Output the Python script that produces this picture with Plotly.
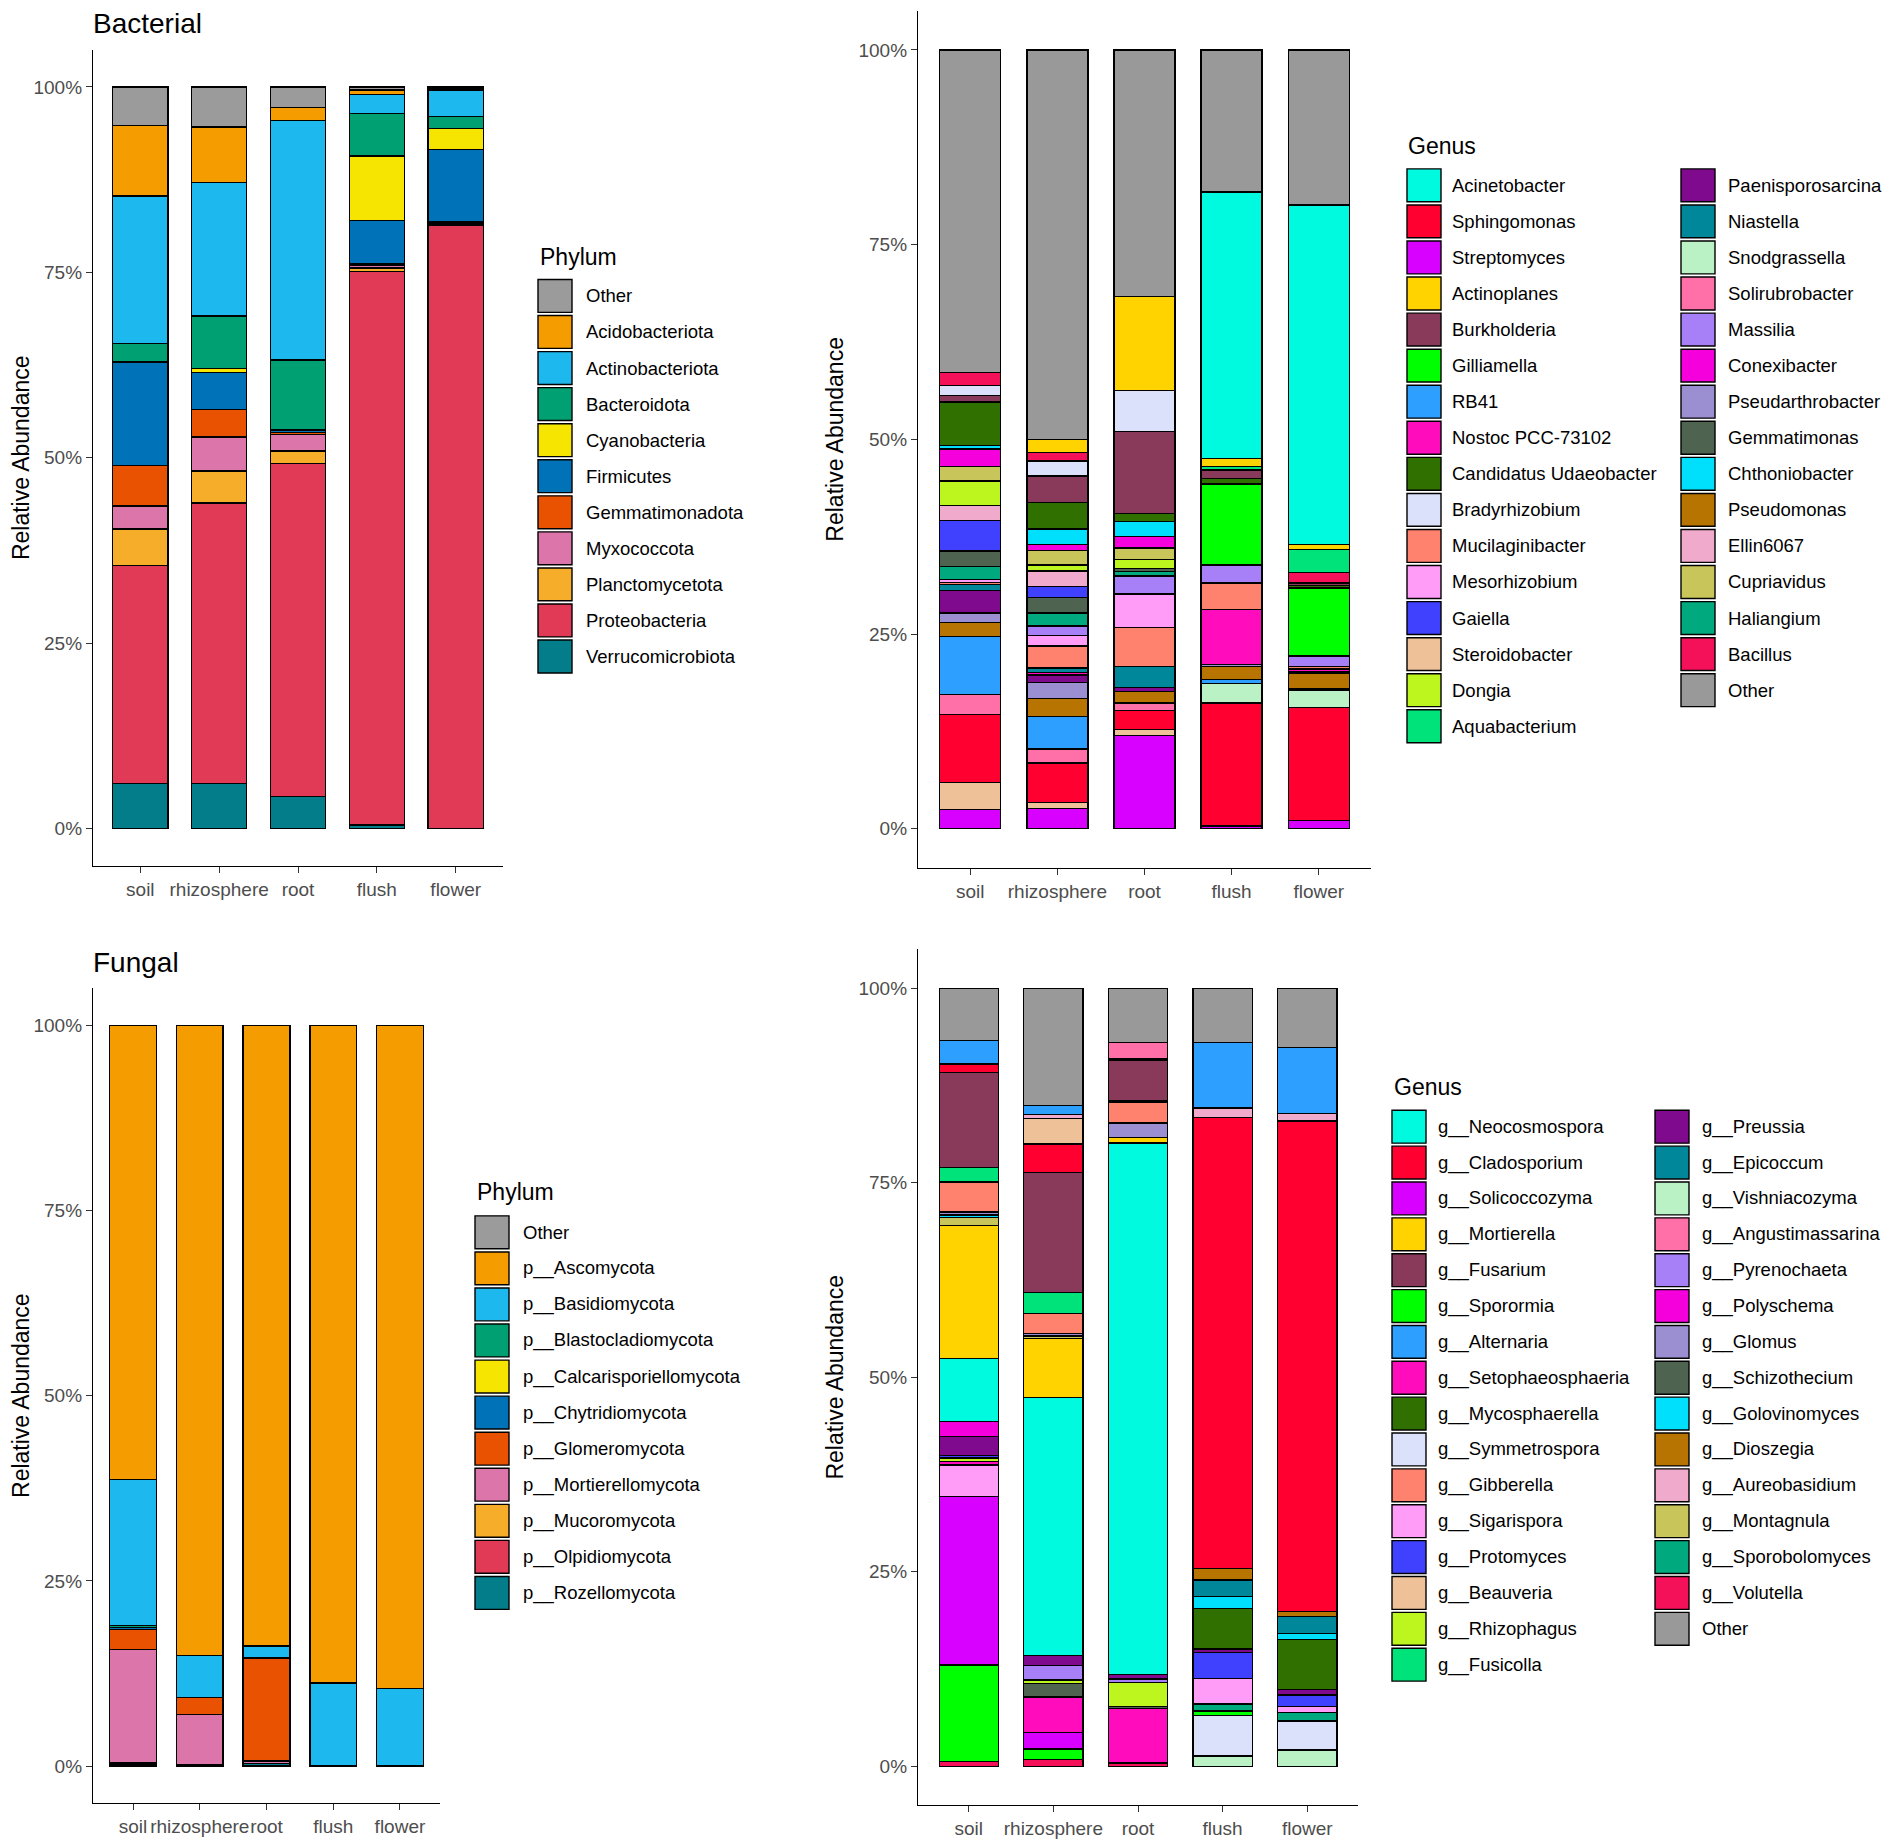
import plotly.graph_objects as go

W, H = 1902, 1847
PAGE_PAD = 8  # default body margin of the html page
FW, FH = W - 2 * PAGE_PAD, H - 2 * PAGE_PAD
FONT = "Liberation Sans, Arial, sans-serif"

samples = ["soil", "rhizosphere", "root", "flush", "flower"]
pct_ticks = [0, 25, 50, 75, 100]
pct_labels = ["0%", "25%", "50%", "75%", "100%"]

# ---- Bacterial, phylum level (legend order; first item sits on top of the stack)
bac_phylum = ["Other", "Acidobacteriota", "Actinobacteriota", "Bacteroidota", "Cyanobacteria",
              "Firmicutes", "Gemmatimonadota", "Myxococcota", "Planctomycetota",
              "Proteobacteria", "Verrucomicrobiota"]
bac_phylum_soil = [5.2, 9.5, 19.9, 2.5, 0.1, 13.8, 5.5, 3.1, 4.9, 29.4, 6.1]
bac_phylum_rhizosphere = [5.4, 7.5, 18.0, 7.1, 0.5, 5.0, 3.7, 4.6, 4.3, 37.8, 6.1]
bac_phylum_root = [2.8, 1.7, 32.3, 9.4, 0.1, 0.3, 0.3, 2.2, 1.7, 44.9, 4.3]
bac_phylum_flush = [0.4, 0.6, 2.6, 5.7, 8.7, 5.8, 0.2, 0.4, 0.5, 74.6, 0.5]
bac_phylum_flower = [0.3, 0.2, 3.5, 1.6, 2.8, 9.8, 0.2, 0.1, 0.1, 81.4, 0.0]

# ---- Fungal, phylum level
fun_phylum = ["Other", "p__Ascomycota", "p__Basidiomycota", "p__Blastocladiomycota",
              "p__Calcarisporiellomycota", "p__Chytridiomycota", "p__Glomeromycota",
              "p__Mortierellomycota", "p__Mucoromycota", "p__Olpidiomycota", "p__Rozellomycota"]
fun_phylum_soil = [0, 61.3, 19.7, 0.3, 0, 0.3, 2.7, 15.3, 0, 0.2, 0.2]
fun_phylum_rhizosphere = [0, 85.1, 5.6, 0, 0, 0, 2.3, 6.8, 0, 0, 0.2]
fun_phylum_root = [0, 83.8, 1.6, 0, 0, 0, 13.9, 0.4, 0, 0, 0.3]
fun_phylum_flush = [0, 88.8, 11.2, 0, 0, 0, 0, 0, 0, 0, 0]
fun_phylum_flower = [0, 89.5, 10.5, 0, 0, 0, 0, 0, 0, 0, 0]

phylum_colors = ["#9B9B9B", "#F59D00", "#1CB8EE", "#00A072", "#F5E500", "#0072B8",
                 "#E85200", "#DB75AA", "#F6AD2A", "#E03A57", "#037D8A"]

# ---- Bacterial, genus level (legend order)
bac_genus = ["Acinetobacter", "Sphingomonas", "Streptomyces", "Actinoplanes", "Burkholderia",
             "Gilliamella", "RB41", "Nostoc PCC-73102", "Candidatus Udaeobacter",
             "Bradyrhizobium", "Mucilaginibacter", "Mesorhizobium", "Gaiella", "Steroidobacter",
             "Dongia", "Aquabacterium", "Paenisporosarcina", "Niastella", "Snodgrassella",
             "Solirubrobacter", "Massilia", "Conexibacter", "Pseudarthrobacter", "Gemmatimonas",
             "Chthoniobacter", "Pseudomonas", "Ellin6067", "Cupriavidus", "Haliangium",
             "Bacillus", "Other"]
bac_genus_soil = [0, 8.8, 2.5, 0, 0.8, 0, 7.5, 0, 5.6, 1.3, 0.25, 0.35, 3.9, 3.4, 3.1, 0,
                  2.9, 0.8, 0, 2.5, 0, 2.2, 1.2, 2.0, 0.45, 1.8, 2.0, 1.9, 1.65, 1.7, 41.4]
bac_genus_rhizosphere = [0, 5.1, 2.6, 1.7, 3.4, 0, 4.2, 0.3, 3.4, 1.9, 2.8, 1.4, 1.4, 0.75, 0.75, 0,
                         1.0, 0.6, 0, 1.8, 1.2, 0.75, 2.0, 2.0, 2.0, 2.3, 2.0, 1.9, 1.65, 1.1, 50.0]
bac_genus_root = [0, 2.4, 12.0, 12.0, 10.5, 0, 0, 0, 1.05, 5.3, 5.0, 4.3, 0, 0.75, 1.1, 0,
                  0.5, 2.7, 0, 1.0, 2.3, 1.5, 0, 0.4, 1.9, 1.5, 0, 1.5, 0.6, 0, 31.7]
bac_genus_flush = [34.2, 15.8, 0.35, 1.0, 1.1, 10.4, 0.5, 7.1, 0.7, 0, 3.4, 0, 0, 0, 0, 0.5,
                   0, 0, 2.5, 0, 2.3, 0, 0.2, 0, 0, 1.7, 0, 0, 0, 0, 18.25]
bac_genus_flower = [43.6, 14.5, 1.1, 0.6, 0.3, 8.7, 0.2, 0.3, 0.35, 0, 0.3, 0, 0, 0, 0, 3.0,
                    0, 0, 2.2, 0, 1.4, 0, 0.2, 0, 0, 2.0, 0, 0, 0, 1.35, 19.9]

# ---- Fungal, genus level (legend order)
fun_genus = ["g__Neocosmospora", "g__Cladosporium", "g__Solicoccozyma", "g__Mortierella",
             "g__Fusarium", "g__Sporormia", "g__Alternaria", "g__Setophaeosphaeria",
             "g__Mycosphaerella", "g__Symmetrospora", "g__Gibberella", "g__Sigarispora",
             "g__Protomyces", "g__Beauveria", "g__Rhizophagus", "g__Fusicolla", "g__Preussia",
             "g__Epicoccum", "g__Vishniacozyma", "g__Angustimassarina", "g__Pyrenochaeta",
             "g__Polyschema", "g__Glomus", "g__Schizothecium", "g__Golovinomyces",
             "g__Dioszegia", "g__Aureobasidium", "g__Montagnula", "g__Sporobolomyces",
             "g__Volutella", "Other"]
fun_genus_soil = [8.1, 1.1, 21.7, 17.1, 12.2, 12.4, 3.0, 0.5, 0, 0, 3.85, 4.0, 0.3, 0, 0.4,
                  1.85, 2.5, 0, 0, 0, 0, 1.9, 0.4, 0, 0.35, 0, 0, 1.0, 0, 0.6, 6.7]
fun_genus_rhizosphere = [33.2, 3.7, 2.1, 7.6, 15.4, 1.3, 1.1, 4.6, 0, 0, 2.6, 0, 0, 3.3, 0.5,
                         2.7, 1.25, 0, 0, 0, 1.85, 0, 0.3, 1.7, 0, 0, 0.5, 0.3, 0, 0.9, 15.1]
fun_genus_root = [68.3, 0.2, 0, 0.75, 5.2, 0, 0, 7.0, 0, 0, 2.6, 0, 0, 0, 3.1, 0.2, 0.6,
                  0, 0, 2.1, 0.4, 0, 1.85, 0.3, 0, 0, 0, 0, 0, 0.4, 7.0]
fun_genus_flush = [0, 57.9, 0, 0, 0, 0.6, 8.4, 0, 5.2, 5.2, 0, 3.3, 3.3, 0, 0, 0, 0.45,
                   2.1, 1.3, 0, 0, 0, 0, 0, 1.6, 1.5, 1.25, 0, 0.9, 0, 7.0]
fun_genus_flower = [0, 63.1, 0, 0, 0, 0, 8.5, 0, 6.4, 3.7, 0, 0.75, 1.5, 0, 0, 0, 0.75,
                    2.2, 2.1, 0, 0, 0, 0, 0, 0.75, 0.6, 0.95, 0, 1.1, 0, 7.6]

genus_colors = ["#00FAE0", "#FF0030", "#D800FF", "#FFD300", "#893A5A", "#00FF00", "#2C9FFF",
                "#FF0DBD", "#2F7000", "#DCE1FB", "#FF826E", "#FF9CF8", "#4040FF", "#EEC199",
                "#BDF51F", "#00E27A", "#7F0A8D", "#00879A", "#BAF2C6", "#FF6FA8", "#A77FF7",
                "#F500DC", "#9C8FD1", "#4E6350", "#00E0FC", "#B87400", "#F0AACB", "#C8C55A",
                "#00AA7E", "#F5105A", "#999999"]


# page pixel -> paper fraction (the figure sits inside the page's 8px body margin)
def px_x(v):
    return (v - PAGE_PAD) / FW


def px_y(v):
    return 1 - (v - PAGE_PAD) / FH


def genus_stack(names):
    # stacked with Other on top, then alphabetical from top to bottom
    rest = sorted([n for n in names if n != "Other"], key=lambda s: s.replace("g__", "").lower())
    return ["Other"] + rest


fig = go.Figure()


def add_panel(names, colors, columns, stack_top_down, axis_id):
    for name in reversed(stack_top_down):
        i = names.index(name)
        vals = [col[i] if col[i] > 0 else None for col in columns]
        fig.add_trace(go.Bar(
            x=samples, y=vals, name=name,
            marker=dict(color=colors[i], line=dict(color="black", width=1.3)),
            xaxis="x" + axis_id, yaxis="y" + axis_id,
            showlegend=False,
            hovertemplate=name + ": %{y:.2f}%<extra>%{x}</extra>",
        ))


add_panel(bac_phylum, phylum_colors,
          [bac_phylum_soil, bac_phylum_rhizosphere, bac_phylum_root, bac_phylum_flush, bac_phylum_flower],
          bac_phylum, "")
add_panel(bac_genus, genus_colors,
          [bac_genus_soil, bac_genus_rhizosphere, bac_genus_root, bac_genus_flush, bac_genus_flower],
          genus_stack(bac_genus), "2")
add_panel(fun_phylum, phylum_colors,
          [fun_phylum_soil, fun_phylum_rhizosphere, fun_phylum_root, fun_phylum_flush, fun_phylum_flower],
          fun_phylum, "3")
add_panel(fun_genus, genus_colors,
          [fun_genus_soil, fun_genus_rhizosphere, fun_genus_root, fun_genus_flush, fun_genus_flower],
          genus_stack(fun_genus), "4")

# panel boxes in page pixels: (left, right, top, bottom) of the plotting area
panels = {
    "": (93, 503, 50, 869),
    "2": (918, 1371, 11, 871),
    "3": (93, 440, 992, 1810),
    "4": (918, 1358, 953, 1812),
}

tick_font = dict(family=FONT, size=19, color="#4D4D4D")
layout_axes = {}
for aid, (l, r, t, b) in panels.items():
    layout_axes["xaxis" + aid] = dict(
        domain=[px_x(l), px_x(r)], anchor="y" + aid, type="category",
        range=[-0.6, 4.6], showline=True, linecolor="black", linewidth=1.3,
        ticks="outside", ticklen=6, tickcolor="#333333", tickwidth=1.2,
        showgrid=False, zeroline=False, tickfont=tick_font, tickangle=0,
    )
    layout_axes["yaxis" + aid] = dict(
        domain=[px_y(b), px_y(t)], anchor="x" + aid,
        range=[-5, 105], tickvals=pct_ticks, ticktext=pct_labels,
        showline=True, linecolor="black", linewidth=1.3,
        ticks="outside", ticklen=6, tickcolor="#333333", tickwidth=1.2,
        showgrid=False, zeroline=False, tickfont=tick_font,
        title=dict(text="Relative Abundance", font=dict(family=FONT, size=23, color="black"),
                   standoff=8),
    )

shapes = []
annotations = []


def draw_legend(title, names, colors, title_xy, cols, step=36.3, key_w=34, key_h=33):
    annotations.append(dict(
        text=title, x=px_x(title_xy[0]), y=px_y(title_xy[1]), xref="paper", yref="paper",
        xanchor="left", yanchor="middle", showarrow=False,
        font=dict(family=FONT, size=23, color="black"),
    ))
    for key_x, label_x, y0, start, stop in cols:
        for k, i in enumerate(range(start, stop)):
            cy = y0 + k * step
            shapes.append(dict(
                type="rect", xref="paper", yref="paper",
                x0=px_x(key_x), x1=px_x(key_x + key_w),
                y0=px_y(cy + key_h / 2), y1=px_y(cy - key_h / 2),
                fillcolor=colors[i], line=dict(color="black", width=1.4),
            ))
            annotations.append(dict(
                text=names[i], x=px_x(label_x - 2), y=px_y(cy), xref="paper", yref="paper",
                xanchor="left", yanchor="middle", showarrow=False,
                font=dict(family=FONT, size=18.5, color="black"),
            ))


draw_legend("Phylum", bac_phylum, phylum_colors, (538, 258), [(538, 586, 297, 0, 11)], step=36.2)
draw_legend("Genus", bac_genus, genus_colors, (1406, 147),
            [(1407, 1452, 186, 0, 16), (1681, 1728, 186, 16, 31)], step=36.2)
draw_legend("Phylum", fun_phylum, phylum_colors, (475, 1197), [(475, 523, 1237, 0, 11)], step=36.2)
draw_legend("Genus", fun_genus, genus_colors, (1392, 1091),
            [(1392, 1438, 1131, 0, 16), (1655, 1702, 1131, 16, 31)], step=36.0)

for text, (x, y) in [("Bacterial", (93, 24)), ("Fungal", (93, 966))]:
    annotations.append(dict(
        text=text, x=px_x(x - 2), y=px_y(y), xref="paper", yref="paper",
        xanchor="left", yanchor="middle", showarrow=False,
        font=dict(family=FONT, size=28, color="black"),
    ))

fig.update_layout(
    width=FW, height=FH,
    margin=dict(l=0, r=0, t=0, b=0),
    barmode="stack", bargap=0.3,
    plot_bgcolor="white", paper_bgcolor="white",
    font=dict(family=FONT),
    shapes=shapes, annotations=annotations,
    **layout_axes,
)

fig.write_html("out.html")
